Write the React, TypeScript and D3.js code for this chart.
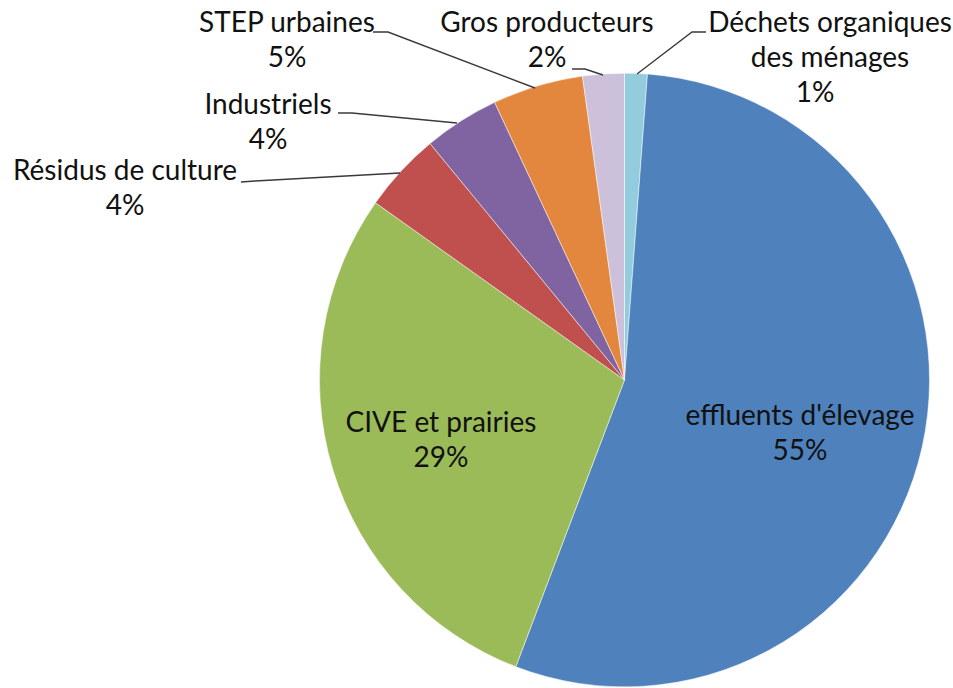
import React from "react";
import * as d3 from "d3";

// slices, clockwise from 12 o'clock (as Excel draws them)
const categories = [
  "Déchets organiques des ménages",
  "effluents d'élevage",
  "CIVE et prairies",
  "Résidus de culture",
  "Industriels",
  "STEP urbaines",
  "Gros producteurs",
];
const shares = [1.2, 54.6, 29.0, 4.2, 4.0, 4.8, 2.2];
const colors = ["#93CDDD", "#4F81BD", "#9BBB59", "#C0504D", "#8064A2", "#E3873F", "#CCC0DA"];

// label text lines (name part), percent goes on the last line
const labelLines = [
  ["Déchets organiques", "des ménages"],
  ["effluents d'élevage"],
  ["CIVE et prairies"],
  ["Résidus de culture"],
  ["Industriels"],
  ["STEP urbaines"],
  ["Gros producteurs"],
];

// manual label placement (x center, baseline of first line), like the excel layout
const labelPos = [
  { x: 830, y: 32, pctX: 815 },
  { x: 800, y: 425, pctX: 800 },
  { x: 441, y: 432, pctX: 441 },
  { x: 125, y: 180, pctX: 125 },
  { x: 268, y: 114, pctX: 268 },
  { x: 287, y: 32, pctX: 287 },
  { x: 547, y: 32, pctX: 547 },
];

// leader lines, label end -> slice
const leaders = [
  [[706, 32], [692, 32], [637, 74]],
  null,
  null,
  [[241, 182], [255, 181], [400, 173]],
  [[338, 113], [352, 113], [457, 123]],
  [[373, 32], [388, 32], [535, 88]],
  [[572, 69], [585, 69], [603, 75]],
];

const width = 953;
const height = 688;
const cx = 624.5;
const cy = 380;
const radius = 305;

export default function App() {
  const total = d3.sum(shares);
  const pie = d3.pie<number>().sort(null).value((d) => d)(shares);
  const arc = d3.arc<d3.PieArcDatum<number>>().innerRadius(0).outerRadius(radius);
  const fmt = d3.format(".0%");
  const lineH = 35;
  const line = d3.line();

  return (
    <svg
      width={width}
      height={height}
      style={{ position: "absolute", left: 0, top: 0, background: "#fff" }}
      fontFamily="Lato, 'Open Sans', sans-serif"
      fontSize={28}
    >
      <g transform={`translate(${cx},${cy}) scale(1,1.006)`}>
        {pie.map((p, i) => (
          <path key={i} d={arc(p) || ""} fill={colors[i]} stroke="#fff" strokeOpacity={0.6} strokeWidth={0.8} />
        ))}
      </g>
      {leaders.map((l, i) =>
        l ? (
          <path key={"l" + i} d={line(l as [number, number][]) || ""} fill="none" stroke="#3a3a3a" strokeWidth={1.4} />
        ) : null
      )}
      {labelLines.map((lines, i) => {
        const pos = labelPos[i];
        return (
          <g key={"t" + i} fill="#111" textAnchor="middle">
            {lines.map((s, j) => (
              <text key={j} x={pos.x} y={pos.y + j * lineH}>
                {s}
              </text>
            ))}
            <text x={pos.pctX} y={pos.y + lines.length * lineH}>
              {fmt(shares[i] / total)}
            </text>
          </g>
        );
      })}
    </svg>
  );
}
